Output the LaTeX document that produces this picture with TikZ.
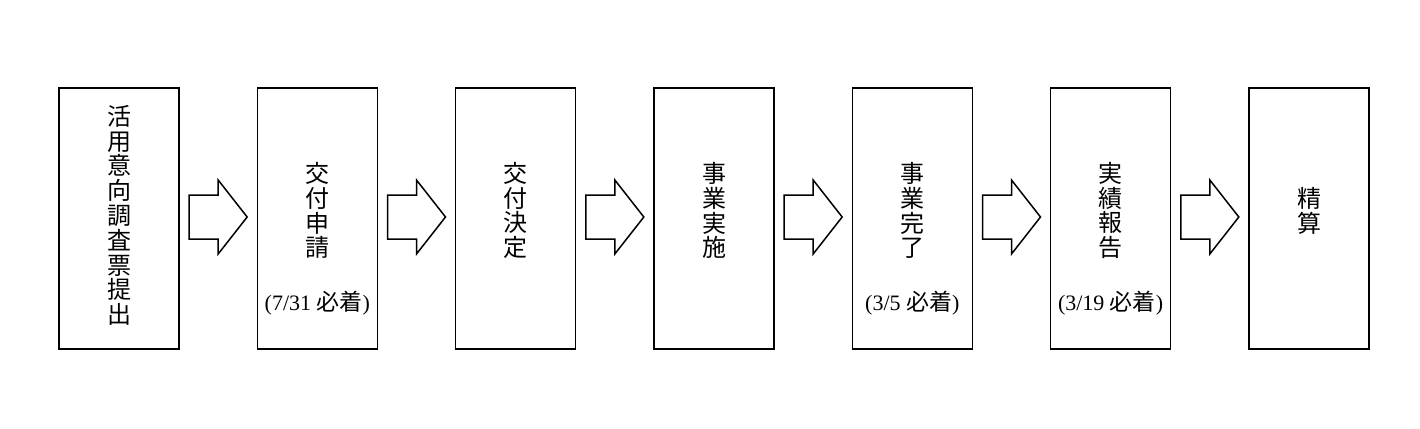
\documentclass[tikz,border=0pt]{standalone}
\usepackage{fontspec}
\setmainfont{Liberation Serif}
\newfontfamily\cjk{Noto Sans CJK JP}
\usetikzlibrary{calc}
\tikzset{
  stagebox/.style={draw=black, line width=1.5pt, minimum width=120pt, minimum height=261pt, inner sep=0pt},
  vtext/.style={align=center, inner sep=0pt, font=\cjk\fontsize{24}{24.8}\selectfont},
  duelabel/.style={inner sep=0pt, font=\fontsize{22}{24}\selectfont},
  blockarrow/.style={draw=black, line width=1.5pt, fill=white, line join=miter}
}
\newcommand{\jp}[1]{{\cjk\fontsize{23}{24}\selectfont #1}}
\begin{document}
\begin{tikzpicture}[x=1pt, y=-1pt]
\useasboundingbox (0,0) rectangle (1420,428);
\foreach \i in {1,...,7} {
  \node[stagebox] (b\i) at ({119+198.33*(\i-1)}, 218.5) {};
}
\foreach \i [evaluate=\i as \j using int(\i+1)] in {1,...,6} {
  \coordinate (m\i) at ($(b\i.east)!0.5!(b\j.west)+(0,-1.5)$);
  \draw[blockarrow] ($(m\i)+(-29,-22)$) -- ($(m\i)+(0,-22)$) -- ($(m\i)+(0,-37)$)
    -- ($(m\i)+(29,0)$) -- ($(m\i)+(0,37)$) -- ($(m\i)+(0,22)$) -- ($(m\i)+(-29,22)$) -- cycle;
}
\node[vtext] (t1) at ($(b1.center)+(0,-3)$) {活\\用\\意\\向\\調\\査\\票\\提\\出};
\node[vtext] (t2) at ($(b2.center)+(0,-8)$) {交\\付\\申\\請};
\node[vtext] (t3) at ($(b3.center)+(0,-8)$) {交\\付\\決\\定};
\node[vtext] (t4) at ($(b4.center)+(0,-8)$) {事\\業\\実\\施};
\node[vtext] (t5) at ($(b5.center)+(0,-8)$) {事\\業\\完\\了};
\node[vtext] (t6) at ($(b6.center)+(0,-8)$) {実\\績\\報\\告};
\node[vtext] (t7) at ($(b7.center)+(0,-8)$) {精\\算};
\node[duelabel] (d2) at ($(b2.center)+(0,85)$) {(7/31 \jp{必着})};
\node[duelabel] (d5) at ($(b5.center)+(0,85)$) {(3/5 \jp{必着})};
\node[duelabel] (d6) at ($(b6.center)+(0,85)$) {(3/19 \jp{必着})};
\end{tikzpicture}
\end{document}
